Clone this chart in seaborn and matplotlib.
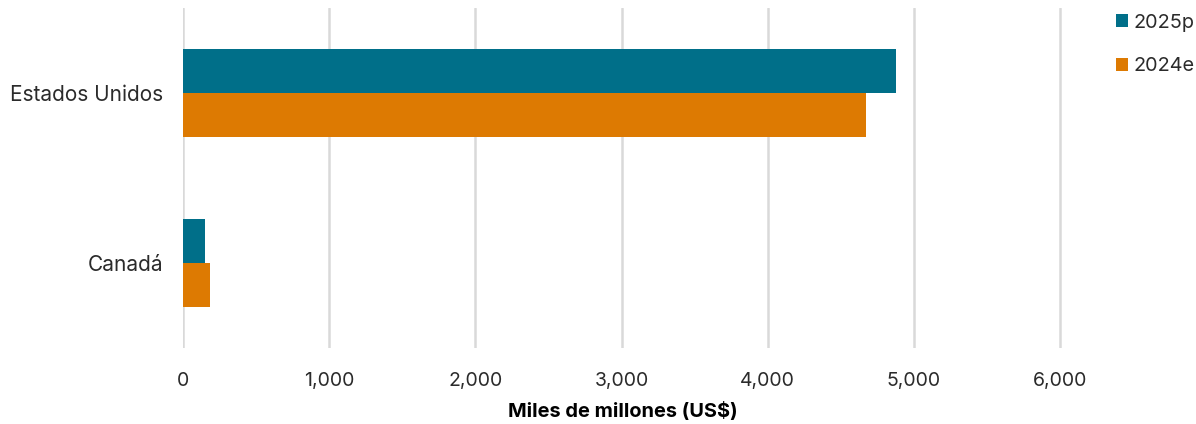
import matplotlib
matplotlib.use("Agg")
import matplotlib.pyplot as plt
from matplotlib.patches import Patch
from matplotlib.ticker import FuncFormatter, FixedLocator
import pandas as pd
import seaborn as sns

# Market size by country, billions of US$
countries = ["Estados Unidos", "Canadá"]
series = ["2025p", "2024e"]
values_2025p = [4875, 150]
values_2024e = [4670, 183]
colors = ["#006F89", "#DD7A02"]
xticks = [0, 1000, 2000, 3000, 4000, 5000, 6000]

df = pd.DataFrame({
    "country": countries * 2,
    "serie": [series[0]] * 2 + [series[1]] * 2,
    "value": values_2025p + values_2024e,
})

sns.set_theme(style="white")
plt.rcParams["font.family"] = ["Inter", "DejaVu Sans"]
text_color = "#2b2b2b"

fig = plt.figure(figsize=(11.96, 4.24), dpi=100)
ax = fig.add_axes([0.153, 0.179, 0.7355, 0.802])

sns.barplot(data=df, y="country", x="value", hue="serie", hue_order=series,
            order=countries, palette=colors, orient="h", width=0.52,
            saturation=1, linewidth=0, ax=ax, legend=False)

ax.set_xlim(0, 6018)
ax.set_ylim(1.5, -0.5)
ax.xaxis.set_major_locator(FixedLocator(xticks))
ax.xaxis.set_major_formatter(FuncFormatter(lambda v, p: f"{int(v):,}"))
ax.grid(axis="x", color="#d9d9d9", linewidth=1.8)
ax.set_axisbelow(True)
for s in ax.spines.values():
    s.set_visible(False)

ax.tick_params(axis="both", length=0, colors=text_color)
ax.tick_params(axis="x", labelsize=14, pad=17)
ax.tick_params(axis="y", labelsize=15, pad=14)
ax.set_ylabel("")
ax.set_xlabel("Miles de millones (US$)", fontsize=14.4, fontweight="bold",
              color="black", labelpad=9)

handles = [Patch(facecolor=c, edgecolor="none") for c in colors]
fig.legend(handles, series, loc="upper left", bbox_to_anchor=(0.933, 0.968),
           frameon=False, fontsize=14.3, labelcolor=text_color,
           handlelength=0.6, handleheight=0.6, handletextpad=0.3,
           labelspacing=1.3, borderpad=0, borderaxespad=0)

fig.savefig("out.png", dpi=100, facecolor="white")
